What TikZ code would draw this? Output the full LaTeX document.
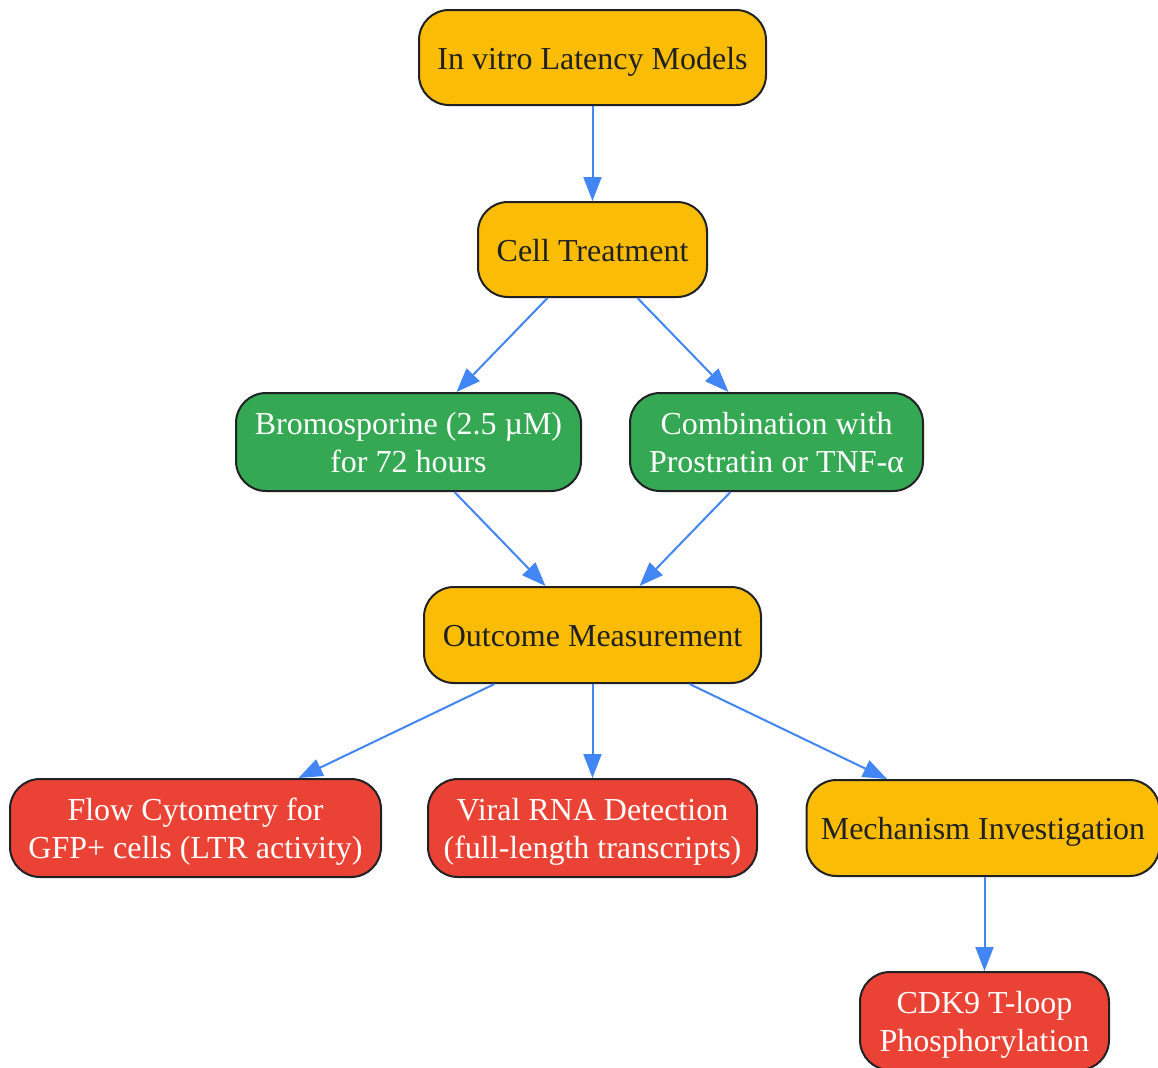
\documentclass[tikz,border=0pt]{standalone}
\usepackage{fontspec}
\setmainfont{Liberation Serif}
\usetikzlibrary{arrows.meta,calc}
\definecolor{gyellow}{HTML}{FBBC05}
\definecolor{ggreen}{HTML}{34A853}
\definecolor{gred}{HTML}{EA4335}
\definecolor{gblue}{HTML}{4285F4}
\definecolor{gdark}{HTML}{202124}
\newcommand{\liftlines}[1]{\raisebox{-2pt}[\height][\depth]{\begin{tabular}{@{}c@{}}#1\end{tabular}}}
\tikzset{
  box/.style={draw=gdark, line width=1pt, rounded corners=15pt, inner sep=0pt, align=center,
    font=\fontsize{16}{19.2}\selectfont},
  ybox/.style={box, fill=gyellow, text=gdark},
  gbox/.style={box, fill=ggreen, text=white},
  rbox/.style={box, fill=gred, text=white},
  conn/.style={draw=gblue, line width=1pt, -{Triangle[length=12pt,width=9pt]}},
}
\begin{document}
\begin{tikzpicture}[x=0.5pt,y=-0.5pt]
\useasboundingbox (0,0) rectangle (1158,1067);
\node[ybox, minimum width=173.5pt, minimum height=47.5pt] (m) at (592.5,57.5) {\liftlines{In vitro Latency Models}};
\node[ybox, minimum width=114.5pt, minimum height=47.5pt] (ct) at (592.5,249.5) {\liftlines{Cell Treatment}};
\node[gbox, minimum width=172.5pt, minimum height=49pt] (b) at (408.5,442) {\liftlines{Bromosporine (2.5 µM)\\for 72 hours}};
\node[gbox, minimum width=146.5pt, minimum height=49pt] (c) at (776.5,442) {\liftlines{Combination with\\Prostratin or TNF-α}};
\node[ybox, minimum width=168.5pt, minimum height=48pt] (o) at (592.5,635) {\liftlines{Outcome Measurement}};
\node[rbox, minimum width=185.5pt, minimum height=49pt] (f) at (195.5,828) {\liftlines{Flow Cytometry for\\GFP+ cells (LTR activity)}};
\node[rbox, minimum width=164.5pt, minimum height=49pt] (v) at (592.5,828) {\liftlines{Viral RNA Detection\\(full-length transcripts)}};
\node[ybox, minimum width=176.5pt, minimum height=48pt] (mi) at (983,828) {\liftlines{Mechanism Investigation}};
\node[rbox, minimum width=124.5pt, minimum height=49pt] (k) at (984.5,1021) {\liftlines{CDK9 T-loop\\Phosphorylation}};
\draw[conn] (m.south) -- (ct.north);
\draw[conn] ($(ct.south)+(-45,0)$) -- ($(b.north)+(48,0)$);
\draw[conn] ($(ct.south)+(45,0)$) -- ($(c.north)+(-48,0)$);
\draw[conn] ($(b.south)+(46,0)$) -- ($(o.north)+(-47,0)$);
\draw[conn] ($(c.south)+(-46,0)$) -- ($(o.north)+(47,0)$);
\draw[conn] ($(o.south)+(-98,0)$) -- ($(f.north)+(103,0)$);
\draw[conn] (o.south) -- (v.north);
\draw[conn] ($(o.south)+(97,0)$) -- ($(mi.north)+(-96,0)$);
\draw[conn] (k.north |- mi.south) -- (k.north);
\end{tikzpicture}
\end{document}
